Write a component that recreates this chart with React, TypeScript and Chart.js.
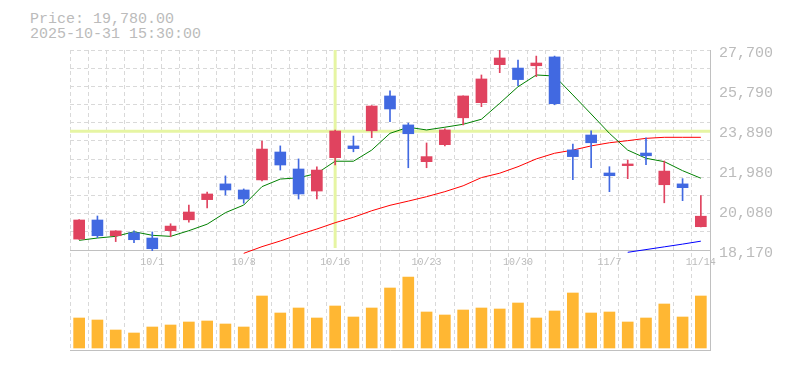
import React, { useEffect, useRef } from 'react';
import { Chart, registerables } from 'chart.js';

Chart.register(...registerables);

const DATES = ['9/25','9/26','9/29','9/30','10/1','10/2','10/3','10/6','10/7','10/8','10/9','10/10','10/14','10/15','10/16','10/17','10/20','10/21','10/22','10/23','10/24','10/27','10/28','10/29','10/30','10/31','11/4','11/5','11/6','11/7','11/10','11/11','11/12','11/13','11/14'];
const SHOWN_DATES = ['10/1','10/8','10/16','10/23','10/30','11/7','11/14'];

const OPEN = [18690,19600,18850,18990,18740,19090,19610,20570,21320,21030,21510,22840,22030,20980,22570,23130,23850,25510,24130,22380,23190,24470,25190,27000,26840,26950,27370,22940,23650,21840,22190,22790,21280,21320,19280];
const HIGH = [19620,19790,19090,19080,19030,19420,20310,20930,21700,21080,23360,23130,22510,22130,23890,23600,25050,25750,24220,23270,23940,25520,26510,27700,27220,27410,27410,23220,23850,22140,22460,23520,22410,21570,20760];
const LOW = [18680,18760,18570,18520,18140,18800,19500,20170,20790,20400,21460,21980,20600,20600,22220,22850,23520,24280,22090,22090,23130,24130,25000,26620,26000,26430,25090,21520,22090,20950,21570,22240,20420,20520,19270];
const CLOSE = [19600,18850,19080,18660,18230,19310,19980,20840,21030,20600,22980,22220,20840,21980,23840,23000,25030,24890,23710,22620,23890,25510,26320,27320,26290,27080,25140,22620,23280,21710,22270,22660,21930,21140,19780];

const MA5 = [18630,18740,18820,19040,18870,18820,19090,19400,19950,20310,21190,21550,21610,21820,22400,22400,22930,23730,24020,23890,24020,24160,24400,25160,25950,26510,26460,25560,24650,23730,22930,22540,22380,21950,21590];
const MA25 = [null,null,null,null,null,null,null,null,null,18010,18330,18600,18900,19170,19470,19730,20040,20300,20500,20710,20950,21230,21620,21830,22140,22510,22780,22930,23130,23280,23380,23490,23540,23540,23540];
const MA75 = [null,null,null,null,null,null,null,null,null,null,null,null,null,null,null,null,null,null,null,null,null,null,null,null,null,null,null,null,null,null,18060,18190,18320,18450,18590];

const VOLUME = [300,280,180,150,210,230,260,270,240,210,520,350,400,300,420,310,400,600,710,360,330,380,400,390,450,300,370,550,350,360,260,300,440,310,520];

const PRICE_TICKS = [18170, 20080, 21980, 23890, 25790, 27700];
const CROSS_DATE = '10/16';
const CROSS_PRICE = 23830;
const TITLE_PRICE = 'Price: 19,780.00';
const TITLE_TIME = '2025-10-31 15:30:00';

const UP = '#e0435f';
const DOWN = '#4169e1';
const VOL_COLOR = '#ffb733';
const GRID = '#d9d9d9';
const AXIS = '#c0c0c0';
const TEXT = '#bbbbbb';
const CROSS = '#e6f5a3';
const MONO = '"Liberation Mono", "DejaVu Sans Mono", monospace';

export default function App() {
  const ref = useRef<HTMLCanvasElement | null>(null);

  useEffect(() => {
    if (!ref.current) return;
    const pMin = PRICE_TICKS[0];
    const pMax = PRICE_TICKS[PRICE_TICKS.length - 1];
    const colors = CLOSE.map((c, i) => (c >= OPEN[i] ? UP : DOWN));

    const crosshair = {
      id: 'crosshair',
      beforeDatasetsDraw(chart: any) {
        const { ctx, chartArea, scales } = chart;
        const x = scales.x.getPixelForValue(DATES.indexOf(CROSS_DATE));
        const y = scales.y.getPixelForValue(CROSS_PRICE);
        const bottom = scales.y.getPixelForValue(pMin);
        ctx.save();
        ctx.strokeStyle = CROSS;
        ctx.lineWidth = 3;
        ctx.beginPath();
        ctx.moveTo(x, chartArea.top);
        ctx.lineTo(x, bottom - 2);
        ctx.moveTo(chartArea.left, y);
        ctx.lineTo(chartArea.right, y);
        ctx.stroke();
        ctx.restore();
      },
    };

    const chart = new Chart(ref.current, {
      type: 'bar',
      data: {
        labels: DATES,
        datasets: [
          {
            type: 'bar', data: OPEN.map((o, i) => [o, CLOSE[i]]) as any,
            backgroundColor: colors, barThickness: 11, grouped: false, yAxisID: 'y', order: 0,
          },
          {
            type: 'bar', data: LOW.map((l, i) => [l, HIGH[i]]) as any,
            backgroundColor: colors, barThickness: 1, grouped: false, yAxisID: 'y', order: 1,
          },
          {
            type: 'line', data: MA5 as any, borderColor: '#008000', borderWidth: 1,
            pointRadius: 0, tension: 0, yAxisID: 'y', order: 2,
          },
          {
            type: 'line', data: MA25 as any, borderColor: '#ff0000', borderWidth: 1,
            pointRadius: 0, tension: 0, yAxisID: 'y', order: 3,
          },
          {
            type: 'line', data: MA75 as any, borderColor: '#0000ff', borderWidth: 1,
            pointRadius: 0, tension: 0, yAxisID: 'y', order: 4,
          },
          {
            type: 'bar', data: VOLUME, backgroundColor: VOL_COLOR, barThickness: 11,
            grouped: false, yAxisID: 'yVol', order: 6,
          },
        ] as any,
      },
      options: {
        animation: false,
        responsive: false,
        devicePixelRatio: 1,
        layout: { padding: { left: 70, top: 50, right: 0, bottom: 20 } },
        plugins: { legend: { display: false }, tooltip: { enabled: false }, title: { display: false } },
        scales: {
          x: {
            type: 'category',
            position: { y: pMin } as any,
            offset: true,
            grid: { display: true, offset: true, color: GRID, lineWidth: 1, drawTicks: false },
            border: { display: true, color: AXIS, width: 1, dash: [4, 3] },
            ticks: {
              autoSkip: false, maxRotation: 0, minRotation: 0, padding: 6, color: TEXT,
              font: { family: MONO, size: 10 },
              callback: (_v: any, i: number) => (SHOWN_DATES.includes(DATES[i]) ? DATES[i] : ''),
            },
          },
          x2: {
            type: 'category', position: 'bottom',
            grid: { display: false, drawTicks: false },
            border: { display: true, color: AXIS, width: 1 },
            ticks: { display: false },
            afterFit: (s: any) => { s.height = 0; },
          },
          yGrid: {
            type: 'linear', position: 'left', min: -5.5, max: 11,
            afterBuildTicks: (s: any) => {
              const t = [];
              for (let v = 0; v <= 11; v++) t.push({ value: v });
              s.ticks = t;
            },
            grid: { color: GRID, lineWidth: 1, drawTicks: false },
            border: { display: false, dash: [4, 3] },
            ticks: { display: false },
            afterFit: (s: any) => { s.width = 0; },
          },
          y: {
            type: 'linear', position: 'right',
            min: pMax - (pMax - pMin) * 1.5, max: pMax,
            afterBuildTicks: (s: any) => { s.ticks = PRICE_TICKS.map((v) => ({ value: v })); },
            grid: { display: false, drawTicks: false },
            border: { display: true, color: AXIS, width: 1 },
            ticks: {
              color: TEXT, padding: 9, labelOffset: 3,
              font: { family: MONO, size: 15 },
              callback: (v: any) => Number(v).toLocaleString('en-US'),
            },
            afterFit: (s: any) => { s.width = 75; },
          },
          yVol: {
            type: 'linear', display: false, min: -20, max: 2980,
          },
        } as any,
      },
      plugins: [crosshair],
    });
    return () => chart.destroy();
  }, []);

  return (
    <div style={{ position: 'fixed', left: 0, top: 0, width: 785, height: 370, background: '#fff' }}>
      <div style={{ position: 'absolute', left: 30, top: 12, fontFamily: MONO, fontSize: 15, lineHeight: '15px', color: TEXT, whiteSpace: 'pre' }}>
        <div>{TITLE_PRICE}</div>
        <div>{TITLE_TIME}</div>
      </div>
      <canvas ref={ref} width={785} height={370} style={{ position: 'absolute', left: 0, top: 0 }} />
    </div>
  );
}
